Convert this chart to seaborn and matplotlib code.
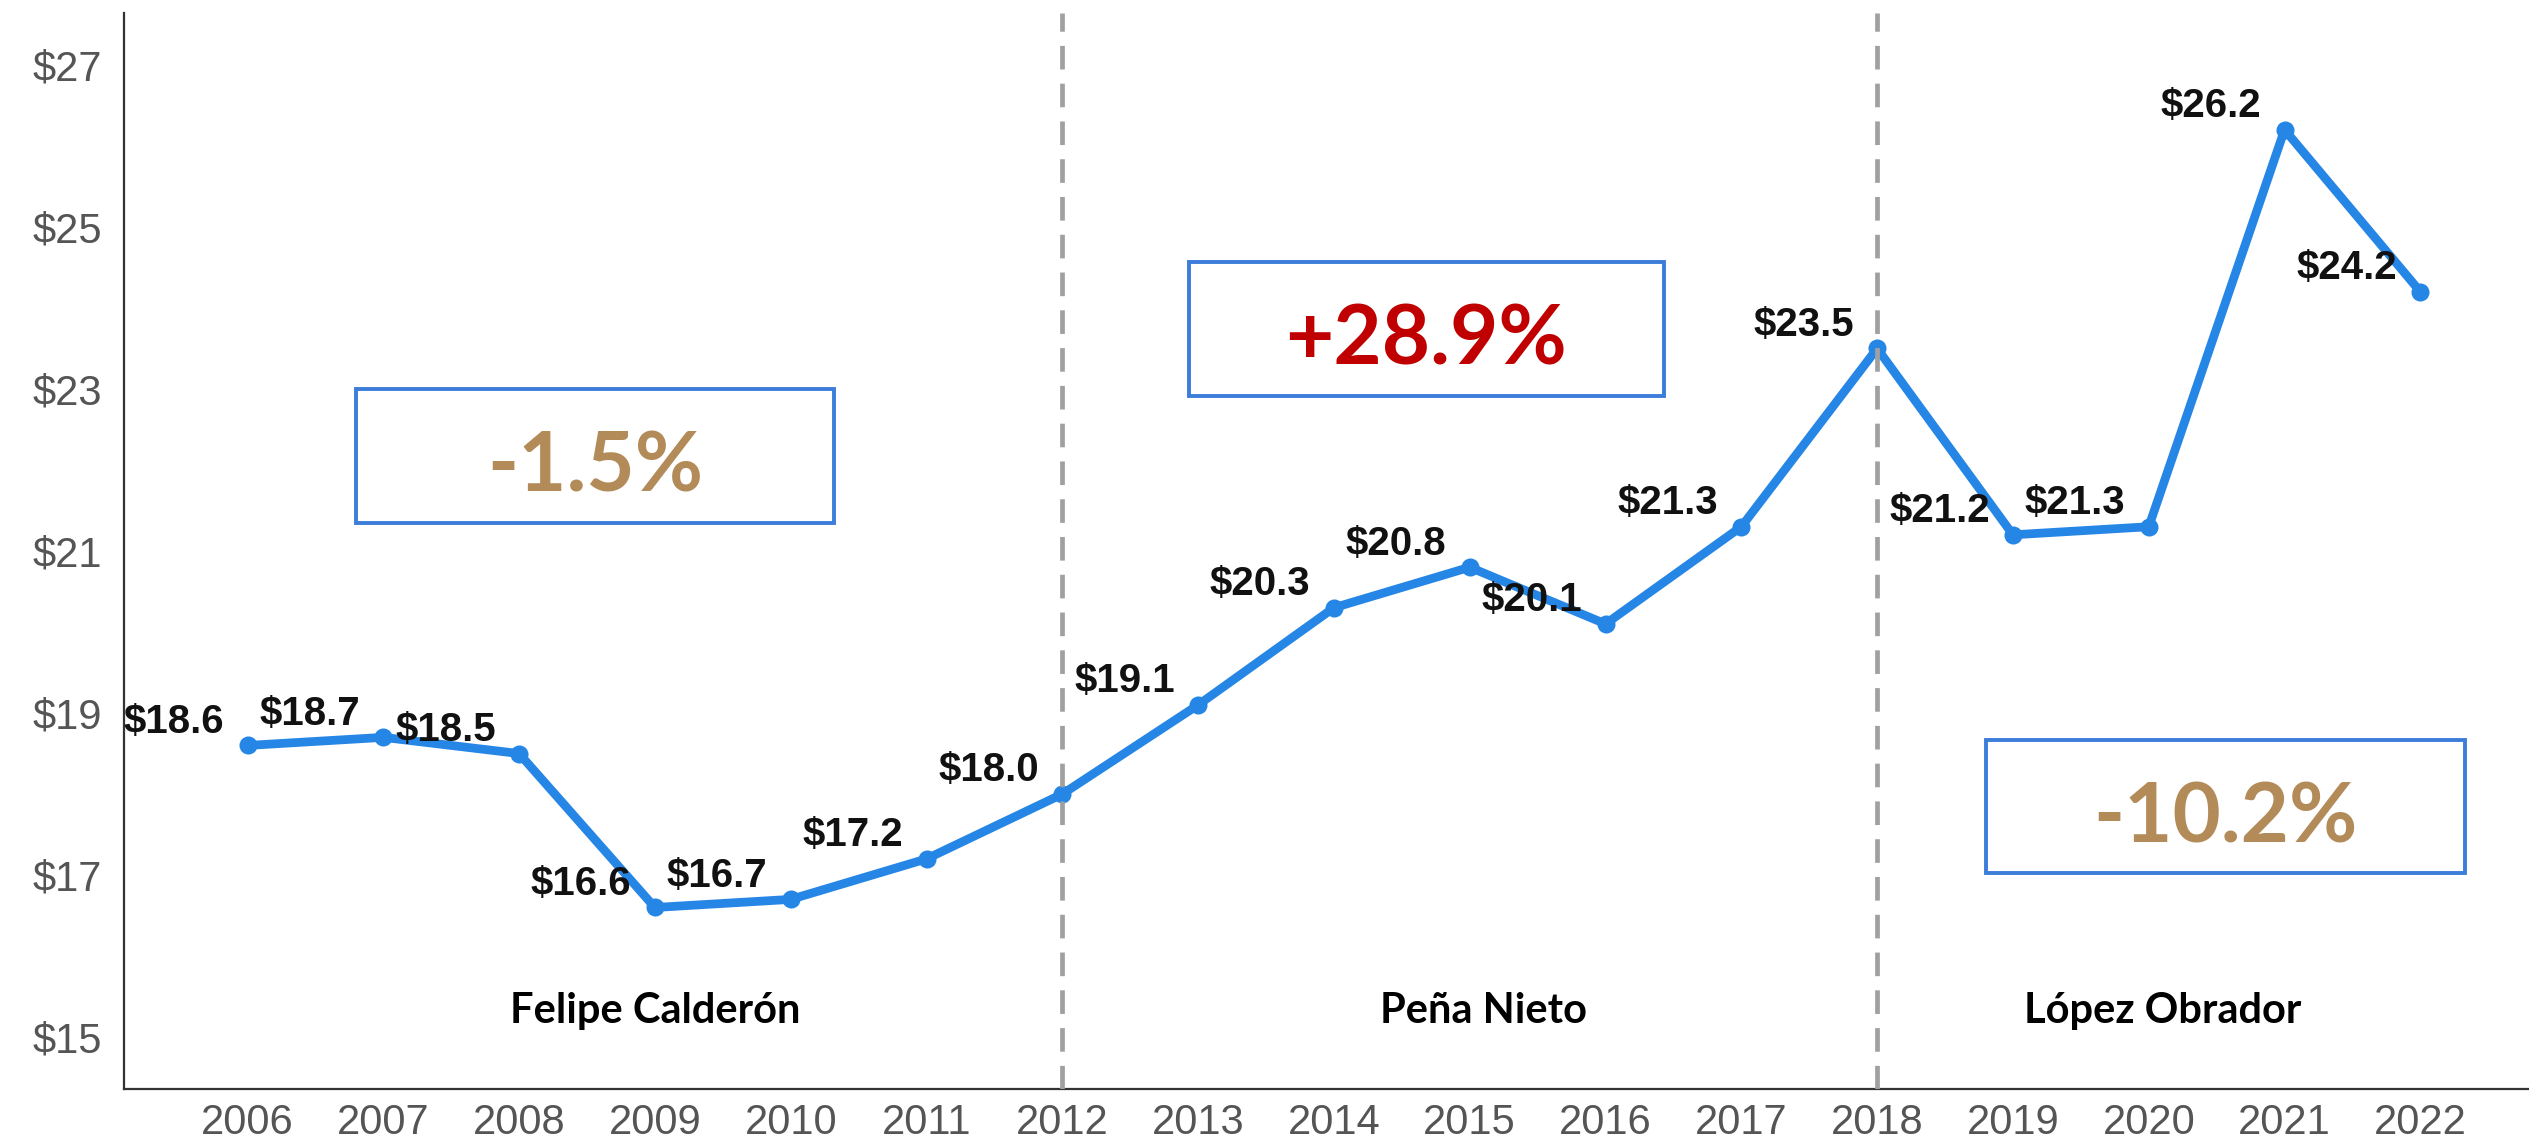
import numpy as np
import pandas as pd
import matplotlib
matplotlib.use('Agg')
import matplotlib.pyplot as plt
import seaborn as sns
from matplotlib.patches import Rectangle

# data
years = list(range(2006, 2023))
values = [18.6, 18.7, 18.5, 16.6, 16.7, 17.2, 18.0, 19.1, 20.3, 20.8,
          20.1, 21.3, 23.5, 21.2, 21.3, 26.2, 24.2]
y_ticks = [15, 17, 19, 21, 23, 25, 27]
term_breaks = [2012, 2018]
presidents = ['Felipe Calderón', 'Peña Nieto', 'López Obrador']
president_x = [2009.0, 2015.1, 2020.1]
changes = ['-1.5%', '+28.9%', '-10.2%']
change_colors = ['#B38B59', '#C00000', '#B38B59']
# boxes: (x0, x1, y0, y1) in data units
change_boxes = [(2006.8, 2010.32, 21.35, 23.0),
                (2012.93, 2016.43, 22.91, 24.57),
                (2018.8, 2022.33, 17.02, 18.67)]

df = pd.DataFrame({'year': years, 'value': values})

sns.set_style('white')
plt.rcParams['font.family'] = ['Liberation Sans', 'DejaVu Sans']

fig = plt.figure(figsize=(25.29, 11.47), dpi=100)
ax = fig.add_axes([0.049, 0.0506, 0.951, 0.938])

sns.lineplot(data=df, x='year', y='value', ax=ax, color='#2686E6',
             linewidth=6.3, marker='o', markersize=13, markeredgewidth=0, zorder=2)

ax.set_xlim(2005.09, 2022.8)
ax.set_ylim(14.36, 27.64)

# term dividers, drawn over the line as in the original
for b in term_breaks:
    ax.axvline(b, color='#A0A0A0', linestyle=(0, (5, 3)), linewidth=3.4, zorder=3)

# point labels
for x, v in zip(years, values):
    ax.annotate(f'${v:.1f}', (x, v), xytext=(-53, 17), textcoords='offset points',
                ha='center', va='center', fontsize=29, fontweight='bold', color='#111111')

# president names
for name, px in zip(presidents, president_x):
    ax.text(px, 15.32, name, ha='center', va='center', fontsize=30,
            fontweight='bold', color='black', family=['Lato', 'DejaVu Sans'])

# change boxes
for (x0, x1, y0, y1), txt, c in zip(change_boxes, changes, change_colors):
    ax.add_patch(Rectangle((x0, y0), x1 - x0, y1 - y0, fill=False,
                           edgecolor='#3C7DD9', linewidth=2.8, zorder=3))
    ax.text((x0 + x1) / 2, (y0 + y1) / 2 - 0.15, txt, ha='center', va='center',
            fontsize=60, fontweight='bold', color=c, family=['Lato', 'DejaVu Sans'])

ax.set_xticks(years)
ax.set_xticklabels([str(y) for y in years])
ax.set_yticks(y_ticks)
ax.set_yticklabels([f'${t}' for t in y_ticks])
ax.tick_params(axis='both', length=0, labelsize=30, labelcolor='#555555')
ax.tick_params(axis='y', pad=16)
ax.tick_params(axis='x', pad=10)
ax.set_xlabel('')
ax.set_ylabel('')

sns.despine(ax=ax)
for s in ['left', 'bottom']:
    ax.spines[s].set_color('#333333')
    ax.spines[s].set_linewidth(1.6)

fig.savefig('out.png', dpi=100)
